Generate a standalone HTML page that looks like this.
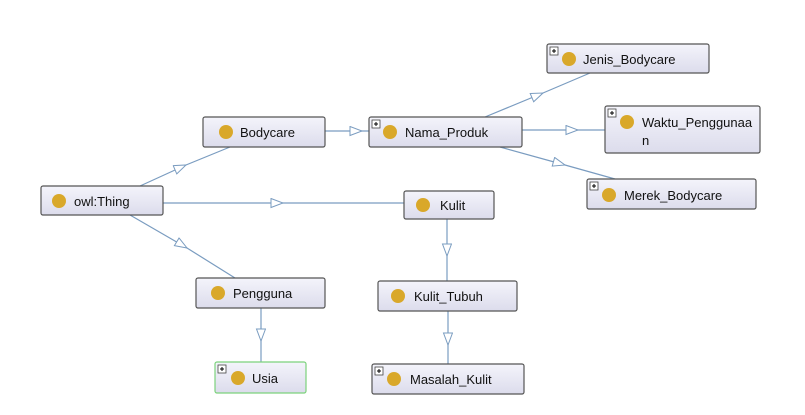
<!DOCTYPE html>
<html><head><meta charset="utf-8"><style>
html,body{margin:0;padding:0;background:#fff;}
svg{display:block;}
text{font-family:"Liberation Sans",sans-serif;font-size:13px;fill:#111;}
</style></head><body>
<svg width="805" height="415" viewBox="0 0 805 415" xmlns="http://www.w3.org/2000/svg">
<defs>
<linearGradient id="g" x1="0" y1="0" x2="0" y2="1"><stop offset="0" stop-color="#f4f4fb"/><stop offset="1" stop-color="#dcdcec"/></linearGradient>
<marker id="a" markerWidth="14" markerHeight="12" refX="13" refY="5" orient="auto" markerUnits="userSpaceOnUse"><path d="M1,0.5 L13,5 L1,9.5 z" fill="#fff" stroke="#7a9cc0" stroke-width="1"/></marker>
</defs>
<g fill="none" stroke="#7a9cc0" stroke-width="1.2" marker-mid="url(#a)">
<path d="M140,186 L186,165 L230,147"/>
<path d="M163,203 L283,203 L404,203"/>
<path d="M130,215 L187,248 L235,278"/>
<path d="M325,131 L362,131 L369,131"/>
<path d="M485,117 L543,93 L590,73"/>
<path d="M522,130 L578,130 L605,130"/>
<path d="M500,147 L565,165 L615,179"/>
<path d="M447,219 L447,256 L447,281"/>
<path d="M261,308 L261,341 L261,362"/>
<path d="M448,311 L448,345 L448,364"/>
</g>
<g stroke="#555" stroke-width="1.2" fill="url(#g)">
<rect x="41" y="186" width="122" height="29" rx="2"/>
<rect x="203" y="117" width="122" height="30" rx="2"/>
<rect x="369" y="117" width="153" height="30" rx="2"/>
<rect x="547" y="44" width="162" height="29" rx="2"/>
<rect x="605" y="106" width="155" height="47" rx="2"/>
<rect x="587" y="179" width="169" height="30" rx="2"/>
<rect x="404" y="191" width="90" height="28" rx="2"/>
<rect x="196" y="278" width="129" height="30" rx="2"/>
<rect x="378" y="281" width="139" height="30" rx="2"/>
<rect x="215" y="362" width="91" height="31" rx="2" stroke="#7cd27c"/>
<rect x="372" y="364" width="152" height="30" rx="2"/>
</g>
<g fill="#d9a82a">
<circle cx="59" cy="201" r="7"/>
<circle cx="226" cy="132" r="7"/>
<circle cx="390" cy="132" r="7"/>
<circle cx="569" cy="59" r="7"/>
<circle cx="627" cy="122" r="7"/>
<circle cx="609" cy="195" r="7"/>
<circle cx="423" cy="205" r="7"/>
<circle cx="218" cy="293" r="7"/>
<circle cx="398" cy="296" r="7"/>
<circle cx="238" cy="378" r="7"/>
<circle cx="394" cy="379" r="7"/>
</g>
<g stroke="#444" stroke-width="0.8" fill="#fff">
<rect x="372" y="120" width="8" height="8"/><rect x="550" y="47" width="8" height="8"/>
<rect x="608" y="109" width="8" height="8"/><rect x="590" y="182" width="8" height="8"/>
<rect x="218" y="365" width="8" height="8"/><rect x="375" y="367" width="8" height="8"/>
</g>
<g stroke="#000" stroke-width="1">
<path d="M374,124h4M376,122v4M552,51h4M554,49v4M610,113h4M612,111v4M592,186h4M594,184v4M220,369h4M222,367v4M377,371h4M379,369v4"/>
</g>
<text x="74" y="206">owl:Thing</text>
<text x="240" y="137">Bodycare</text>
<text x="405" y="137">Nama_Produk</text>
<text x="583" y="64">Jenis_Bodycare</text>
<text x="642" y="127">Waktu_Penggunaa</text>
<text x="642" y="145">n</text>
<text x="624" y="200">Merek_Bodycare</text>
<text x="440" y="210">Kulit</text>
<text x="233" y="298">Pengguna</text>
<text x="414" y="301">Kulit_Tubuh</text>
<text x="252" y="383">Usia</text>
<text x="410" y="384">Masalah_Kulit</text>
</svg>
</body></html>
